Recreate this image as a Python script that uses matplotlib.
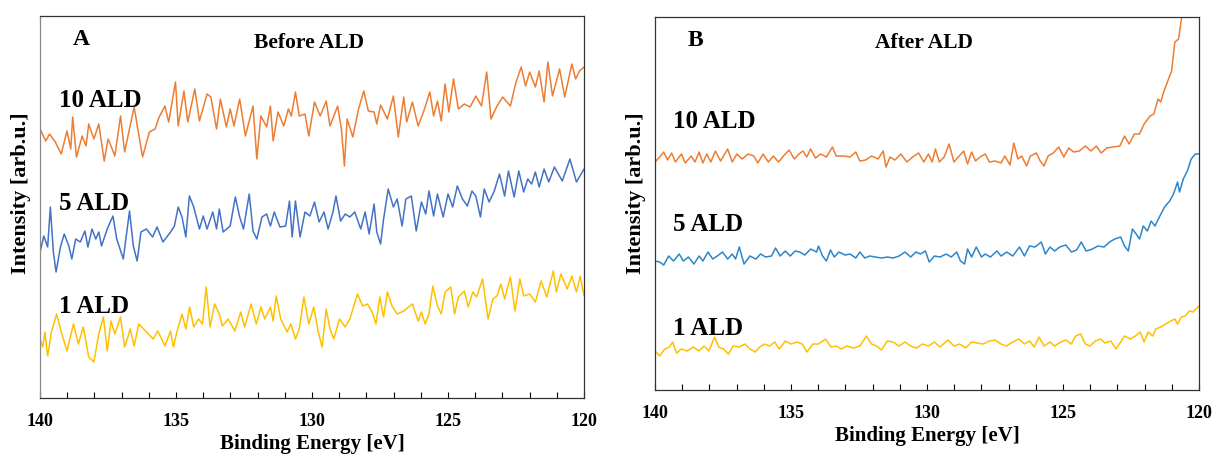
import matplotlib
matplotlib.use("Agg")
import matplotlib.pyplot as plt
from matplotlib.ticker import MultipleLocator

plt.rcParams['font.family'] = ['Liberation Serif', 'DejaVu Serif']
plt.rcParams['font.weight'] = 'bold'

# ---------------- Panel A: before ALD (intensity, arb. units) ----------------
a10_ev = [140.00, 139.79, 139.65, 139.44, 139.22, 139.01, 138.87, 138.80, 138.66, 138.45,
          138.31, 138.21, 138.02, 137.84, 137.64, 137.50, 137.39, 137.25, 137.04, 136.89,
          136.54, 136.23, 135.98, 135.77, 135.62, 135.41, 135.27, 135.02, 134.92, 134.71,
          134.57, 134.31, 134.14, 133.86, 133.72, 133.51, 133.37, 133.15, 133.01, 132.87,
          132.66, 132.45, 132.17, 132.03, 131.88, 131.67, 131.53, 131.43, 131.25, 131.04,
          130.87, 130.76, 130.61, 130.47, 130.26, 130.12, 129.91, 129.70, 129.48, 129.34,
          129.06, 128.92, 128.81, 128.71, 128.50, 128.29, 128.10, 127.93, 127.72, 127.62,
          127.48, 127.23, 127.01, 126.83, 126.63, 126.52, 126.31, 126.10, 125.89, 125.67,
          125.53, 125.39, 125.25, 125.11, 124.97, 124.80, 124.62, 124.40, 124.19, 123.98,
          123.77, 123.58, 123.42, 123.20, 122.99, 122.71, 122.50, 122.31, 122.15, 122.00,
          121.79, 121.65, 121.47, 121.33, 121.16, 120.90, 120.71, 120.45, 120.31, 120.17,
          120.00]
a10_int = [270, 258, 265, 257, 245, 268, 250, 282, 242, 263,
           253, 275, 260, 275, 238, 260, 253, 243, 283, 247,
           292, 242, 267, 270, 282, 293, 277, 317, 273, 308,
           277, 310, 278, 305, 302, 270, 300, 272, 290, 273,
           300, 263, 293, 240, 283, 272, 293, 258, 287, 273,
           290, 283, 307, 283, 285, 263, 297, 283, 298, 273,
           293, 270, 233, 280, 262, 290, 308, 288, 287, 275,
           294, 280, 303, 262, 302, 277, 297, 273, 288, 307,
           283, 298, 278, 315, 287, 320, 290, 295, 292, 303,
           293, 327, 280, 293, 302, 293, 317, 332, 313, 327,
           312, 328, 297, 337, 303, 330, 302, 335, 320, 328,
           332]

a5_ev = [140.00, 139.86, 139.72, 139.62, 139.51, 139.41, 139.25, 139.11, 138.94, 138.83,
         138.69, 138.52, 138.35, 138.24, 138.09, 137.95, 137.84, 137.74, 137.53, 137.32,
         137.18, 136.94, 136.71, 136.57, 136.43, 136.29, 136.09, 135.86, 135.70, 135.48,
         135.20, 135.06, 134.92, 134.78, 134.64, 134.51, 134.35, 134.14, 134.00, 133.86,
         133.65, 133.51, 133.41, 133.27, 133.01, 132.82, 132.66, 132.52, 132.31, 132.17,
         132.03, 131.84, 131.67, 131.53, 131.39, 131.18, 130.97, 130.83, 130.73, 130.61,
         130.44, 130.26, 130.08, 129.91, 129.74, 129.56, 129.41, 129.23, 129.12, 128.95,
         128.78, 128.61, 128.43, 128.21, 128.05, 127.90, 127.72, 127.62, 127.48, 127.37,
         127.20, 127.01, 126.87, 126.69, 126.55, 126.35, 126.17, 125.98, 125.82, 125.70,
         125.53, 125.39, 125.18, 125.00, 124.83, 124.66, 124.47, 124.29, 124.12, 123.98,
         123.81, 123.67, 123.49, 123.30, 123.11, 122.92, 122.78, 122.57, 122.40, 122.22,
         122.07, 121.93, 121.79, 121.65, 121.47, 121.30, 121.09, 120.80, 120.52, 120.28,
         120.00]
a5_int = [147, 163, 152, 192, 147, 127, 152, 165, 153, 140,
          160, 157, 168, 152, 170, 160, 167, 153, 170, 183,
          160, 140, 188, 153, 138, 167, 170, 162, 172, 157,
          167, 173, 192, 182, 162, 203, 192, 170, 183, 170,
          187, 170, 190, 167, 173, 202, 182, 170, 205, 168,
          160, 182, 185, 173, 187, 172, 173, 198, 162, 198,
          162, 187, 183, 197, 177, 187, 170, 187, 203, 178,
          185, 182, 187, 170, 187, 165, 195, 167, 155, 180,
          210, 192, 200, 173, 200, 203, 168, 197, 185, 208,
          183, 205, 182, 205, 192, 213, 200, 193, 208, 203,
          182, 210, 197, 208, 225, 203, 228, 202, 228, 207,
          220, 215, 227, 212, 230, 217, 232, 218, 240, 217,
          230]

a1_ev = [140.00, 139.90, 139.82, 139.72, 139.58, 139.39, 139.22, 139.01, 138.77, 138.59,
         138.41, 138.21, 138.02, 137.84, 137.67, 137.53, 137.39, 137.25, 137.04, 136.89,
         136.68, 136.54, 136.37, 136.12, 135.84, 135.67, 135.41, 135.20, 135.10, 134.96,
         134.78, 134.64, 134.50, 134.35, 134.17, 134.03, 133.89, 133.75, 133.58, 133.41,
         133.30, 133.08, 132.84, 132.62, 132.48, 132.24, 132.05, 131.88, 131.74, 131.53,
         131.43, 131.32, 131.15, 130.92, 130.78, 130.61, 130.47, 130.30, 130.12, 129.94,
         129.77, 129.63, 129.48, 129.34, 129.20, 128.99, 128.78, 128.61, 128.33, 128.14,
         127.96, 127.79, 127.65, 127.51, 127.37, 127.23, 127.06, 126.87, 126.63, 126.31,
         126.10, 125.98, 125.84, 125.70, 125.56, 125.39, 125.25, 125.11, 124.90, 124.76,
         124.62, 124.40, 124.26, 124.09, 123.95, 123.73, 123.53, 123.35, 123.20, 123.06,
         122.92, 122.71, 122.54, 122.36, 122.22, 122.00, 121.79, 121.58, 121.37, 121.13,
         121.02, 120.85, 120.62, 120.45, 120.28, 120.14, 120.00]
a1_int = [60, 52, 67, 43, 67, 85, 67, 48, 75, 55,
          72, 42, 37, 65, 82, 48, 78, 65, 82, 52,
          70, 53, 75, 68, 60, 68, 53, 68, 52, 68,
          85, 70, 92, 72, 80, 75, 112, 72, 95, 85,
          73, 80, 68, 87, 72, 95, 75, 92, 80, 92,
          78, 103, 80, 67, 75, 60, 70, 102, 75, 92,
          67, 52, 90, 70, 60, 80, 72, 80, 105, 93,
          95, 87, 75, 102, 82, 107, 93, 85, 88, 95,
          78, 87, 75, 85, 113, 93, 85, 107, 112, 85,
          102, 108, 92, 107, 102, 120, 80, 100, 103, 115,
          100, 122, 88, 120, 103, 105, 97, 118, 102, 128,
          107, 125, 110, 123, 107, 123, 103]

# ---------------- Panel B: after ALD ----------------
b10_ev = [140.00, 139.83, 139.68, 139.54, 139.39, 139.25, 139.03, 138.89, 138.67, 138.53,
          138.38, 138.24, 138.10, 137.95, 137.78, 137.59, 137.33, 137.16, 136.99, 136.80,
          136.58, 136.37, 136.22, 136.03, 135.83, 135.65, 135.46, 135.28, 135.07, 134.88,
          134.71, 134.56, 134.42, 134.28, 134.10, 133.91, 133.70, 133.48, 133.34, 133.05,
          132.83, 132.62, 132.47, 132.26, 132.04, 131.80, 131.61, 131.51, 131.36, 131.18,
          130.96, 130.74, 130.53, 130.31, 130.12, 129.95, 129.81, 129.69, 129.55, 129.37,
          129.19, 129.01, 128.82, 128.65, 128.51, 128.36, 128.22, 128.05, 127.86, 127.71,
          127.50, 127.28, 127.14, 126.95, 126.81, 126.66, 126.52, 126.34, 126.20, 125.98,
          125.84, 125.70, 125.55, 125.36, 125.16, 124.97, 124.79, 124.61, 124.40, 124.18,
          123.97, 123.78, 123.60, 123.39, 123.17, 122.91, 122.74, 122.57, 122.38, 122.19,
          122.02, 121.80, 121.66, 121.51, 121.41, 121.30, 121.15, 121.01, 120.89, 120.75,
          120.65, 120.58]
b10_int = [237, 242, 247, 239, 246, 237, 245, 236, 243, 237,
           247, 236, 245, 237, 248, 238, 250, 237, 245, 240,
           245, 243, 236, 245, 237, 243, 237, 243, 249, 240,
           245, 248, 242, 250, 241, 245, 242, 252, 243, 243,
           242, 247, 238, 239, 243, 240, 248, 232, 242, 239,
           245, 237, 242, 246, 237, 245, 237, 250, 237, 242,
           255, 237, 243, 248, 235, 247, 238, 242, 245, 237,
           238, 236, 243, 234, 256, 240, 243, 233, 243, 246,
           238, 233, 243, 246, 252, 242, 251, 247, 248, 253,
           248, 253, 246, 251, 252, 253, 263, 255, 265, 265,
           275, 283, 285, 300, 297, 307, 318, 328, 357, 360,
           380, 393]

b5_ev = [140.00, 139.83, 139.68, 139.50, 139.32, 139.11, 138.96, 138.77, 138.57, 138.38,
         138.24, 138.05, 137.88, 137.71, 137.52, 137.33, 137.16, 137.04, 136.90, 136.73,
         136.51, 136.29, 136.12, 135.93, 135.72, 135.57, 135.40, 135.21, 135.03, 134.85,
         134.68, 134.49, 134.28, 134.06, 133.99, 133.84, 133.70, 133.55, 133.41, 133.24,
         133.01, 132.83, 132.62, 132.47, 132.29, 132.11, 131.90, 131.68, 131.46, 131.25,
         131.03, 130.81, 130.60, 130.41, 130.24, 130.06, 129.92, 129.73, 129.52, 129.30,
         129.11, 128.91, 128.77, 128.62, 128.51, 128.36, 128.19, 128.00, 127.86, 127.67,
         127.43, 127.28, 127.07, 126.85, 126.60, 126.42, 126.23, 126.03, 125.80, 125.65,
         125.48, 125.31, 125.12, 124.90, 124.69, 124.50, 124.33, 124.15, 123.92, 123.72,
         123.49, 123.29, 123.10, 122.88, 122.74, 122.60, 122.45, 122.31, 122.19, 122.05,
         121.90, 121.76, 121.62, 121.44, 121.27, 121.08, 120.94, 120.79, 120.72, 120.58,
         120.43, 120.29, 120.14, 120.00]
b5_int = [138, 137, 134, 143, 138, 145, 138, 142, 135, 143,
          138, 147, 140, 143, 147, 140, 145, 140, 152, 135,
          143, 140, 145, 142, 143, 151, 143, 148, 143, 148,
          147, 144, 150, 147, 153, 143, 138, 149, 142, 147,
          144, 145, 141, 147, 141, 143, 142, 141, 142, 141,
          143, 147, 142, 147, 145, 148, 137, 143, 142, 145,
          142, 147, 138, 135, 150, 142, 152, 142, 145, 142,
          148, 143, 147, 143, 152, 143, 153, 152, 157, 145,
          152, 148, 152, 154, 147, 149, 157, 148, 150, 153,
          152, 157, 160, 162, 153, 148, 170, 165, 160, 173,
          168, 178, 173, 183, 192, 198, 205, 217, 207, 220,
          228, 240, 245, 245]

b1_ev = [140.00, 139.83, 139.64, 139.47, 139.35, 139.21, 139.03, 138.82, 138.60, 138.38,
         138.20, 138.02, 137.81, 137.66, 137.48, 137.30, 137.13, 136.90, 136.70, 136.51,
         136.32, 136.15, 135.98, 135.79, 135.60, 135.43, 135.21, 135.00, 134.78, 134.59,
         134.42, 134.20, 133.99, 133.73, 133.53, 133.34, 133.15, 132.95, 132.72, 132.47,
         132.23, 132.04, 131.85, 131.68, 131.46, 131.25, 131.03, 130.81, 130.60, 130.38,
         130.17, 129.95, 129.73, 129.52, 129.23, 129.01, 128.80, 128.58, 128.36, 128.15,
         127.93, 127.71, 127.50, 127.28, 127.09, 126.85, 126.63, 126.42, 126.23, 126.06,
         125.88, 125.70, 125.48, 125.31, 125.08, 124.90, 124.69, 124.54, 124.35, 124.18,
         124.01, 123.82, 123.63, 123.46, 123.24, 123.06, 122.88, 122.74, 122.52, 122.34,
         122.16, 122.02, 121.87, 121.70, 121.59, 121.41, 121.23, 121.04, 120.89, 120.79,
         120.65, 120.51, 120.36, 120.22, 120.12, 120.00]
b1_int = [48, 43, 50, 52, 57, 46, 50, 48, 52, 48,
          53, 48, 62, 52, 50, 45, 53, 52, 55, 50,
          47, 52, 55, 53, 57, 50, 58, 55, 57, 55,
          47, 55, 55, 60, 52, 53, 50, 53, 51, 53,
          63, 55, 53, 49, 58, 57, 53, 57, 53, 51,
          55, 53, 57, 52, 59, 53, 55, 51, 57, 56,
          55, 58, 59, 55, 53, 57, 60, 55, 58, 52,
          62, 53, 57, 53, 57, 59, 55, 63, 65, 55,
          53, 58, 60, 56, 58, 50, 57, 63, 60, 63,
          67, 57, 67, 63, 70, 72, 75, 78, 80, 75,
          82, 83, 88, 87, 90, 93]

labels = ["10 ALD", "5 ALD", "1 ALD"]
panel_titles = ["Before ALD", "After ALD"]
panel_letters = ["A", "B"]

orange = '#ED7D31'
yellow = '#FFC000'

fig = plt.figure(figsize=(12.13, 4.56), dpi=100)
ax_a = fig.add_axes([0.033, 0.125, 0.4485, 0.8377])
ax_b = fig.add_axes([0.540, 0.1425, 0.4485, 0.818])

line_kw = dict(lw=1.1, solid_joinstyle='round', solid_capstyle='round')
ax_a.plot(a10_ev, a10_int, color=orange, **line_kw)
ax_a.plot(a5_ev, a5_int, color='#4472C4', **line_kw)
ax_a.plot(a1_ev, a1_int, color=yellow, **line_kw)
ax_a.set_ylim(1, 383)

ax_b.plot(b10_ev, b10_int, color=orange, **line_kw)
ax_b.plot(b5_ev, b5_int, color='#2E86C8', **line_kw)
ax_b.plot(b1_ev, b1_int, color=yellow, **line_kw)
ax_b.set_ylim(9, 382)

label_y = {ax_a: [300, 197, 94], ax_b: [279, 176, 72]}
label_x = {ax_a: 139.3, ax_b: 139.33}
ylab_y = {ax_a: 0.54, ax_b: 0.53}

for ax, title, letter in zip([ax_a, ax_b], panel_titles, panel_letters):
    ax.set_xlim(140, 120)
    ax.xaxis.set_major_locator(MultipleLocator(5))
    ax.xaxis.set_minor_locator(MultipleLocator(1))
    ax.tick_params(axis='x', which='both', direction='in', length=4, width=0.8,
                   labelsize=13, pad=10)
    ax.tick_params(axis='y', left=False, labelleft=False)
    for lab in ax.get_xticklabels():
        lab.set_fontweight('bold')
    for sp in ax.spines.values():
        sp.set_color('#333333')
        sp.set_linewidth(0.9)
    ax.set_xlabel("Binding Energy [eV]", fontsize=15, fontweight='bold', labelpad=3)
    ax.set_ylabel("Intensity [arb.u.]", fontsize=16, fontweight='bold')
    ax.yaxis.set_label_coords(-0.017, ylab_y[ax])
    ax.text(0.075, 0.94, letter, transform=ax.transAxes, fontsize=17,
            fontweight='bold', va='center', ha='center')
    ax.text(0.495, 0.932, title, transform=ax.transAxes, fontsize=15.5,
            fontweight='bold', va='center', ha='center')
    for txt, yv in zip(labels, label_y[ax]):
        ax.text(label_x[ax], yv, txt, fontsize=18, fontweight='bold',
                va='center', ha='left')

ax_a.spines['left'].set_color('#888888')

fig.savefig("out.png", dpi=100)
